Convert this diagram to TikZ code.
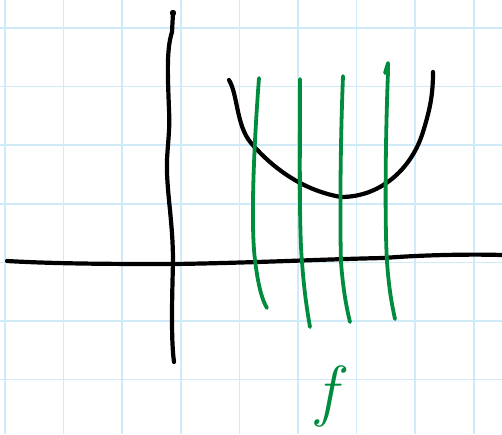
\documentclass[tikz,border=0pt]{standalone}
\usepackage{fontspec}
\usepackage{tikz}
\usetikzlibrary{calc}
\definecolor{gridblue}{RGB}{208,234,250}
\definecolor{penGreen}{RGB}{0,140,62}

\begin{document}
\begin{tikzpicture}[
  x=1pt, y=-1pt,
  gridline/.style={draw=gridblue, line width=1.6pt},
  axis/.style={draw=black, line width=4.2pt, line cap=round, line join=round},
  fibre/.style={draw=penGreen, line width=3.8pt, line cap=round, line join=round},
  lbl/.style={text=penGreen, font=\fontsize{68}{68}\selectfont\itshape, inner sep=0pt},
]
\useasboundingbox (0,0) rectangle (502,434);
\fill[white] (0,0) rectangle (502,434);
% grid paper
\foreach \i in {0,...,8}
  \draw [gridline] (5+58.6*\i,0) -- (5+58.6*\i,434);
\foreach \j in {0,...,7}
  \draw [gridline] (0,28+58.6*\j) -- (502,28+58.6*\j);
% axes
\draw [axis] (7,261) .. controls (60,264) and (120,264) .. (173,264)
      .. controls (250,263) and (330,259) .. (384,258)
      .. controls (420,255) and (470,254) .. (502,255);
\draw [axis] (174,362) .. controls (171,340) and (172,300) .. (173,262)
      .. controls (173,220) and (166,190) .. (167,160)
      .. controls (168,140) and (170,130) .. (169,110)
      .. controls (168,80) and (166,50) .. (172,32) -- (173,13);
\fill (173,13) circle (3.2pt);
% the curve
\draw [axis] (229,80) .. controls (238,95) and (236,125) .. (251,143)
      .. controls (270,165) and (300,190) .. (341,197)
      .. controls (380,197) and (410,170) .. (422,135)
      .. controls (430,110) and (433,95) .. (433,72);
% vertical fibres
\draw [fibre] (259,78) .. controls (255,130) and (250,220) .. (255,260)
      .. controls (258,285) and (262,300) .. (267,308);
\draw [fibre] (300,79) .. controls (300,150) and (299,230) .. (302,262)
      .. controls (304,290) and (307,310) .. (310,327);
\draw [fibre] (343,76) .. controls (340,150) and (340,230) .. (341,262)
      .. controls (343,290) and (347,310) .. (350,322);
\draw [fibre] (385,73) -- (388,63) -- (388,72)
      .. controls (385,150) and (385,230) .. (387,262)
      .. controls (389,290) and (392,305) .. (395,319);
% label
\node (flbl) [lbl] at (327,396) {f};
\end{tikzpicture}
\end{document}
